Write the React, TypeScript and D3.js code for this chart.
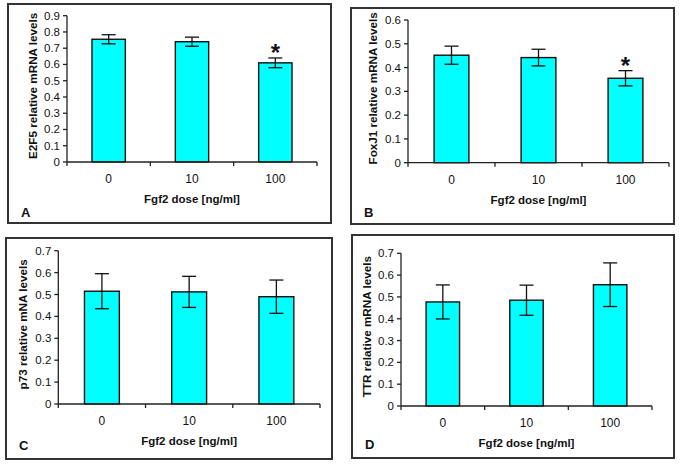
import React from "react";
import * as d3 from "d3";

const categories = ["0", "10", "100"];

const e2f5Means = [0.755, 0.74, 0.61];
const e2f5Errors = [0.028, 0.028, 0.03];
const e2f5Ticks = [0, 0.1, 0.2, 0.3, 0.4, 0.5, 0.6, 0.7, 0.8, 0.9];
const e2f5Signif = [false, false, true];

const foxj1Means = [0.452, 0.442, 0.355];
const foxj1Errors = [0.038, 0.035, 0.032];
const foxj1Ticks = [0, 0.1, 0.2, 0.3, 0.4, 0.5, 0.6];
const foxj1Signif = [false, false, true];

const p73Means = [0.515, 0.512, 0.49];
const p73Errors = [0.08, 0.071, 0.076];
const p73Ticks = [0, 0.1, 0.2, 0.3, 0.4, 0.5, 0.6, 0.7];
const p73Signif = [false, false, false];

const ttrMeans = [0.477, 0.485, 0.556];
const ttrErrors = [0.078, 0.069, 0.1];
const ttrTicks = [0, 0.1, 0.2, 0.3, 0.4, 0.5, 0.6, 0.7];
const ttrSignif = [false, false, false];

const xTitle = "Fgf2 dose [ng/ml]";

const panels = [
  {
    letter: "A", yTitle: "E2F5 relative mRNA levels",
    means: e2f5Means, errors: e2f5Errors, ticks: e2f5Ticks, signif: e2f5Signif,
    frame: { x0: 8, y0: 4, x1: 331, y1: 223 },
    plot: { left: 67, right: 317, bottom: 162, top: 15.7 },
    titleX: 32.5, letterY: 217,
  },
  {
    letter: "B", yTitle: "FoxJ1 relative mRNA levels",
    means: foxj1Means, errors: foxj1Errors, ticks: foxj1Ticks, signif: foxj1Signif,
    frame: { x0: 351, y0: 8, x1: 674, y1: 224 },
    plot: { left: 408, right: 669, bottom: 162.7, top: 20 },
    titleX: 372.5, letterY: 217,
  },
  {
    letter: "C", yTitle: "p73 relative mNA levels",
    means: p73Means, errors: p73Errors, ticks: p73Ticks, signif: p73Signif,
    frame: { x0: 6, y0: 238, x1: 332, y1: 459 },
    plot: { left: 58.3, right: 320, bottom: 404, top: 250.7 },
    titleX: 22.5, letterY: 449.5,
  },
  {
    letter: "D", yTitle: "TTR relative mRNA levels",
    means: ttrMeans, errors: ttrErrors, ticks: ttrTicks, signif: ttrSignif,
    frame: { x0: 352, y0: 235, x1: 674, y1: 458 },
    plot: { left: 401, right: 652, bottom: 406, top: 253.3 },
    titleX: 366.7, letterY: 448.5,
  },
];

const FONT = "'Liberation Sans', Arial, sans-serif";

function Panel({ p }: { p: (typeof panels)[number] }) {
  const { plot, frame } = p;
  const yMax = p.ticks[p.ticks.length - 1];
  const y = d3.scaleLinear().domain([0, yMax]).range([plot.bottom, plot.top]);
  const x = d3
    .scaleBand<string>()
    .domain(categories)
    .range([plot.left, plot.right])
    .paddingInner(0.6)
    .paddingOuter(0.3);
  const step = (plot.right - plot.left) / categories.length;
  const bw = x.bandwidth();
  const cap = 7;
  const midY = (plot.top + plot.bottom) / 2 - 3;
  return (
    <g fontFamily={FONT}>
      <rect
        x={frame.x0}
        y={frame.y0}
        width={frame.x1 - frame.x0}
        height={frame.y1 - frame.y0}
        fill="white"
        stroke="#333"
        strokeWidth={2}
      />
      {p.means.map((m, i) => {
        const cx = (x(categories[i]) as number) + bw / 2;
        const top = y(m + p.errors[i]);
        const bot = y(m - p.errors[i]);
        return (
          <g key={i}>
            <rect
              x={x(categories[i])}
              y={y(m)}
              width={bw}
              height={plot.bottom - y(m)}
              fill="#00ffff"
              stroke="#111"
              strokeWidth={1.4}
            />
            <line x1={cx} x2={cx} y1={top} y2={bot} stroke="#111" strokeWidth={1.3} />
            <line x1={cx - cap} x2={cx + cap} y1={top} y2={top} stroke="#111" strokeWidth={1.3} />
            <line x1={cx - cap} x2={cx + cap} y1={bot} y2={bot} stroke="#111" strokeWidth={1.3} />
            {p.signif[i] && (
              <text x={cx} y={top + 3} textAnchor="middle" fontSize={24} fontWeight="bold" fill="#111">
                *
              </text>
            )}
          </g>
        );
      })}
      {/* y axis */}
      <line x1={plot.left} x2={plot.left} y1={plot.top} y2={plot.bottom} stroke="#222" strokeWidth={1.3} />
      {p.ticks.map((t) => (
        <g key={t}>
          <line x1={plot.left - 4} x2={plot.left} y1={y(t)} y2={y(t)} stroke="#222" strokeWidth={1.3} />
          <text x={plot.left - 7} y={y(t) + 4} textAnchor="end" fontSize={11.5} fill="#111">
            {d3.format("")(t)}
          </text>
        </g>
      ))}
      {/* x axis */}
      <line x1={plot.left} x2={plot.right} y1={plot.bottom} y2={plot.bottom} stroke="#222" strokeWidth={1.3} />
      {d3.range(categories.length + 1).map((i) => (
        <line
          key={i}
          x1={plot.left + i * step}
          x2={plot.left + i * step}
          y1={plot.bottom}
          y2={plot.bottom + 4}
          stroke="#222"
          strokeWidth={1.3}
        />
      ))}
      {categories.map((c) => (
        <text
          key={c}
          x={(x(c) as number) + bw / 2}
          y={plot.bottom + 21}
          textAnchor="middle"
          fontSize={12}
          fill="#111"
        >
          {c}
        </text>
      ))}
      <text
        x={(plot.left + plot.right) / 2}
        y={plot.bottom + 41}
        textAnchor="middle"
        fontSize={11.5}
        fontWeight="bold"
        fill="#111"
      >
        {xTitle}
      </text>
      <text
        transform={`translate(${p.titleX + 4},${midY}) rotate(-90)`}
        textAnchor="middle"
        fontSize={11.7}
        fontWeight="bold"
        fill="#111"
      >
        {p.yTitle}
      </text>
      <text x={frame.x0 + 13} y={p.letterY} fontSize={13} fontWeight="bold" fill="#111">
        {p.letter}
      </text>
    </g>
  );
}

export default function App() {
  return (
    <svg width={685} height={464} style={{ position: "absolute", left: 0, top: 0, background: "white" }}>
      <rect width={685} height={464} fill="white" />
      {panels.map((p) => (
        <Panel key={p.letter} p={p} />
      ))}
    </svg>
  );
}
